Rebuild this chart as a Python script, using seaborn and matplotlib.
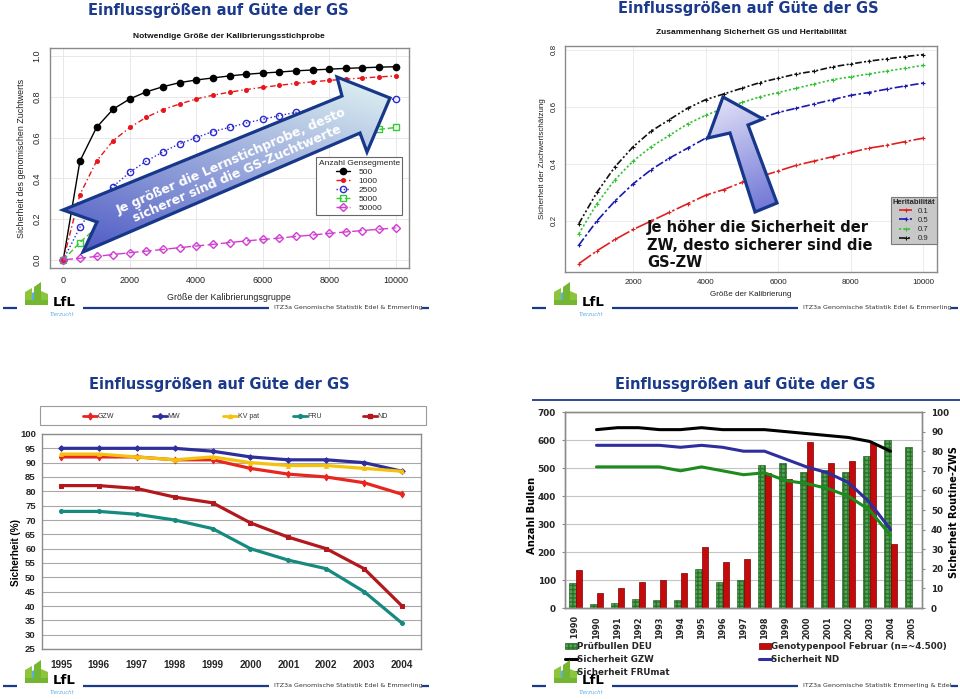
import numpy as np
import pandas as pd
import matplotlib
matplotlib.use("Agg")
import matplotlib.pyplot as plt
import seaborn as sns
from matplotlib.patches import Polygon, Rectangle, Patch
from matplotlib.lines import Line2D

# ---------------- data ----------------
# Panel 1: Notwendige Größe der Kalibrierungsstichprobe
p1_x = [0, 500, 1000, 1500, 2000, 2500, 3000, 3500, 4000, 4500, 5000,
        5500, 6000, 6500, 7000, 7500, 8000, 8500, 9000, 9500, 10000]
p1_500 = [0, 0.485, 0.65, 0.74, 0.79, 0.825, 0.85, 0.87, 0.883, 0.893, 0.903,
          0.911, 0.917, 0.922, 0.928, 0.932, 0.936, 0.94, 0.943, 0.946, 0.948]
p1_1000 = [0, 0.32, 0.485, 0.585, 0.65, 0.70, 0.738, 0.765, 0.79, 0.808, 0.823,
           0.836, 0.847, 0.857, 0.866, 0.874, 0.881, 0.887, 0.893, 0.898, 0.903]
p1_2500 = [0, 0.16, 0.28, 0.36, 0.43, 0.485, 0.53, 0.57, 0.60, 0.63, 0.65,
           0.672, 0.69, 0.708, 0.724, 0.738, 0.75, 0.762, 0.772, 0.782, 0.79]
p1_5000 = [0, 0.085, 0.16, 0.23, 0.285, 0.33, 0.37, 0.405, 0.435, 0.46, 0.49,
           0.51, 0.53, 0.55, 0.57, 0.585, 0.60, 0.613, 0.627, 0.64, 0.65]
p1_50000 = [0, 0.008, 0.017, 0.026, 0.035, 0.043, 0.051, 0.06, 0.068, 0.076, 0.085,
            0.093, 0.10, 0.107, 0.115, 0.122, 0.13, 0.137, 0.144, 0.15, 0.157]
p1_labels = ["500", "1000", "2500", "5000", "50000"]

# Panel 2: Zusammenhang Sicherheit GS und Heritabilität
p2_x = [500, 1000, 1500, 2000, 2500, 3000, 3500, 4000, 4500, 5000,
        5500, 6000, 6500, 7000, 7500, 8000, 8500, 9000, 9500, 10000]
p2_h01 = [0.05, 0.095, 0.135, 0.17, 0.20, 0.23, 0.26, 0.29, 0.31, 0.335,
          0.355, 0.375, 0.395, 0.41, 0.425, 0.44, 0.455, 0.465, 0.478, 0.49]
p2_h05 = [0.115, 0.20, 0.27, 0.33, 0.38, 0.42, 0.455, 0.49, 0.515, 0.54,
          0.56, 0.58, 0.595, 0.61, 0.625, 0.64, 0.65, 0.662, 0.673, 0.683]
p2_h07 = [0.155, 0.26, 0.345, 0.41, 0.46, 0.50, 0.54, 0.57, 0.595, 0.615,
          0.635, 0.65, 0.665, 0.68, 0.695, 0.705, 0.715, 0.725, 0.735, 0.745]
p2_h09 = [0.19, 0.30, 0.39, 0.46, 0.515, 0.555, 0.595, 0.625, 0.645, 0.665,
          0.685, 0.70, 0.715, 0.725, 0.74, 0.75, 0.76, 0.768, 0.776, 0.783]
p2_labels = ["0.1", "0.5", "0.7", "0.9"]

# Panel 3: Sicherheit (%) nach Jahrgang
p3_years = ["1995", "1996", "1997", "1998", "1999", "2000", "2001", "2002", "2003", "2004"]
p3_gzw = [92, 92, 92, 91, 91, 88, 86, 85, 83, 79]
p3_mw = [95, 95, 95, 95, 94, 92, 91, 91, 90, 87]
p3_kvpat = [93, 93, 92, 91, 92, 90, 89, 89, 88, 87]
p3_fru = [73, 73, 72, 70, 67, 60, 56, 53, 45, 34]
p3_nd = [82, 82, 81, 78, 76, 69, 64, 60, 53, 40]
p3_labels = ["GZW", "MW", "KV pat", "FRU", "ND"]

# Panel 4: Anzahl Bullen und Sicherheit Routine-ZWS
p4_cats = ["< 1990", "1990", "1991", "1992", "1993", "1994", "1995", "1996", "1997",
           "1998", "1999", "2000", "2001", "2002", "2003", "2004", "2005"]
p4_pruef = [90, 13, 19, 33, 27, 30, 140, 94, 99, 511, 517, 485, 492, 487, 542, 601, 576]
p4_geno = [137, 54, 71, 93, 101, 124, 219, 165, 174, 481, 460, 593, 517, 526, 590, 227, np.nan]
p4_line_years = ["1990", "1991", "1992", "1993", "1994", "1995", "1996", "1997", "1998",
                 "1999", "2000", "2001", "2002", "2003", "2004"]
p4_gzw = [91, 92, 92, 91, 91, 92, 91, 91, 91, 90, 89, 88, 87, 85, 80]
p4_nd = [83, 83, 83, 83, 82, 83, 82, 80, 80, 76, 72, 69, 64, 54, 40]
p4_fru = [72, 72, 72, 72, 70, 72, 70, 68, 69, 65, 63.5, 61, 57, 50, 37]

# ---------------- setup ----------------
sns.set_style("white")
W, H = 960, 699
fig = plt.figure(figsize=(W / 100, H / 100), dpi=100)
fig.patch.set_facecolor("white")

ARIAL = ["Liberation Sans", "DejaVu Sans"]
VERD = ["DejaVu Sans"]
TITLE_BLUE = "#1c3a8c"


def frect(x0, y0, x1, y1):
    return [x0 / W, 1 - y1 / H, (x1 - x0) / W, (y1 - y0) / H]


def style_ticks(ax, size, fam, weight="normal"):
    for lab in ax.get_xticklabels() + ax.get_yticklabels():
        lab.set_fontfamily(fam)
        lab.set_fontsize(size)
        lab.set_fontweight(weight)


# ---------------- Panel 1 ----------------
ax1 = fig.add_axes(frect(50, 48, 409, 268))
p1_specs = [
    (p1_500, "black", "o", "-", 4.5, True),
    (p1_1000, "#e8161b", "o", (0, (4, 2, 1, 2)), 2.6, True),
    (p1_2500, "#2b2bd0", "o", (0, (1, 1.6)), 4.5, False),
    (p1_5000, "#33cc33", "s", (0, (4, 2)), 4.2, False),
    (p1_50000, "#d23cd2", "D", (0, (7, 2.5)), 4.2, False),
]
for lab, (vals, col, mk, ls, ms, filled) in zip(p1_labels, p1_specs):
    sns.lineplot(x=p1_x, y=vals, ax=ax1, color=col, lw=1.0, linestyle=ls,
                 marker=mk, markersize=ms, markerfacecolor=col if filled else "none",
                 markeredgecolor=col, markeredgewidth=1.0, label=lab)
ax1.set_xlim(-400, 10400)
ax1.set_ylim(-0.04, 1.04)
ax1.set_xticks([0, 2000, 4000, 6000, 8000, 10000])
ax1.set_yticks([0.0, 0.2, 0.4, 0.6, 0.8, 1.0])
ax1.set_yticklabels(["0.0", "0.2", "0.4", "0.6", "0.8", "1.0"])
ax1.set_xlabel("")
ax1.set_ylabel("")
ax1.grid(True, color="#e8e8e8", lw=0.7)
ax1.set_axisbelow(True)
for s in ax1.spines.values():
    s.set_color("#8a8a8a")
    s.set_linewidth(1.0)
ax1.tick_params(axis="both", length=3, width=0.7, color="#555", pad=3, labelcolor="#222")
style_ticks(ax1, 6.5, ARIAL)
for lab in ax1.get_yticklabels():
    lab.set_rotation(90)
    lab.set_va("center")
h1 = ax1.get_lines()[:5]
leg1 = ax1.legend(h1, p1_labels, title="Anzahl Gensegmente", loc="upper left",
                  bbox_to_anchor=(312 / W, 1 - 153 / H), bbox_transform=fig.transFigure,
                  prop={"family": ARIAL, "size": 6.0}, title_fontproperties={"family": ARIAL, "size": 6.0},
                  frameon=True, fancybox=False, edgecolor="#666", framealpha=1,
                  borderpad=0.3, labelspacing=0.15, handlelength=1.7, handletextpad=1.0)
leg1.get_frame().set_linewidth(0.8)

# ---------------- Panel 2 ----------------
ax2 = fig.add_axes(frect(565, 46, 937, 272))
p2_specs = [
    (p2_h01, "#e02020", (0, (9, 1.5, 1.5, 1.5))),
    (p2_h05, "#1a1ab0", (0, (5, 1.5, 1.5, 1.5))),
    (p2_h07, "#33c233", (0, (1.3, 1.3))),
    (p2_h09, "#111111", (0, (4, 1.4, 1.2, 1.4, 1.2, 1.4))),
]
for lab, (vals, col, ls) in zip(p2_labels, p2_specs):
    sns.lineplot(x=p2_x, y=vals, ax=ax2, color=col, lw=1.2, linestyle=ls, marker="+",
                 markersize=3, markeredgecolor=col, markeredgewidth=0.8, label=lab)
ax2.set_xlim(120, 10380)
ax2.set_ylim(0.021, 0.813)
ax2.set_xticks([2000, 4000, 6000, 8000, 10000])
ax2.set_yticks([0.2, 0.4, 0.6, 0.8])
ax2.set_yticklabels(["0.2", "0.4", "0.6", "0.8"])
ax2.set_xlabel("")
ax2.set_ylabel("")
ax2.grid(True, color="#ececec", lw=0.7)
ax2.set_axisbelow(True)
for s in ax2.spines.values():
    s.set_color("#8a8a8a")
    s.set_linewidth(1.0)
ax2.tick_params(axis="both", length=2.5, width=0.7, color="#555", pad=2.5, labelcolor="#222")
style_ticks(ax2, 5.8, ARIAL)
for lab in ax2.get_yticklabels():
    lab.set_rotation(90)
    lab.set_va("center")
h2 = ax2.get_lines()[:4]
leg2 = ax2.legend(h2, p2_labels, title="Heritabilität", loc="upper left",
                  bbox_to_anchor=(887 / W, 1 - 193 / H), bbox_transform=fig.transFigure,
                  prop={"family": ARIAL, "size": 5.6}, title_fontproperties={"family": ARIAL, "size": 5.6, "weight": "bold"},
                  frameon=True, fancybox=False, facecolor="#c8c8c8", edgecolor="#7a7a7a", framealpha=1,
                  borderpad=0.25, labelspacing=0.22, handlelength=1.6, handletextpad=0.8)
leg2.get_frame().set_linewidth(0.8)

# ---------------- Panel 3 ----------------
ax3 = fig.add_axes(frect(42, 434, 421, 649))
p3_pos = np.arange(len(p3_years))
p3_specs = [
    (p3_gzw, "#e8251f", "d", 3.5),
    (p3_mw, "#2f2f9c", "D", 2.8),
    (p3_kvpat, "#f4c20d", "^", 2.8),
    (p3_fru, "#168a7e", "o", 2.8),
    (p3_nd, "#b3181c", "s", 3.2),
]
for lab, (vals, col, mk, ms) in zip(p3_labels, p3_specs):
    sns.lineplot(x=p3_pos, y=vals, ax=ax3, color=col, lw=2.3, marker=mk, markersize=ms,
                 markeredgecolor=col, markerfacecolor=col, label=lab)
if ax3.get_legend() is not None:
    ax3.get_legend().remove()
ax3.set_xlim(-0.5, len(p3_years) - 0.5)
ax3.set_ylim(25, 100)
ax3.set_yticks(np.arange(25, 101, 5))
ax3.set_xticks(p3_pos)
ax3.set_xticklabels(p3_years)
ax3.set_xticks(np.arange(-0.5, len(p3_years), 1), minor=True)
ax3.set_xlabel("")
ax3.set_ylabel("")
ax3.yaxis.grid(True, color="#a8a8a8", lw=0.8)
ax3.set_axisbelow(True)
for s in ax3.spines.values():
    s.set_color("#8c8c8c")
    s.set_linewidth(1.0)
ax3.tick_params(axis="x", which="major", length=0, pad=8)
ax3.tick_params(axis="x", which="minor", length=4, width=0.8, color="#8c8c8c")
ax3.tick_params(axis="y", length=3, width=0.8, color="#8c8c8c", pad=1.5)
style_ticks(ax3, 6.8, ARIAL, "bold")
for lab in ax3.get_xticklabels():
    lab.set_fontsize(7.2)

# ---------------- Panel 4 ----------------
ax4 = fig.add_axes(frect(565, 412, 922, 608))
df4 = pd.DataFrame({
    "cat": p4_cats + p4_cats,
    "val": p4_pruef + p4_geno,
    "serie": ["Prüfbullen DEU"] * len(p4_cats) + ["Genotypenpool Februar (n=~4.500)"] * len(p4_cats),
})
GREEN_BAR = "#4fa84f"
RED_BAR = "#c40a0a"
sns.barplot(data=df4, x="cat", y="val", hue="serie", order=p4_cats,
            hue_order=["Prüfbullen DEU", "Genotypenpool Februar (n=~4.500)"],
            palette=[GREEN_BAR, RED_BAR], width=0.62, saturation=1, ax=ax4, legend=False)
for p in ax4.containers[0]:
    p.set_hatch("++++")
    p.set_edgecolor("#2f6f2f")
    p.set_linewidth(0.5)
for p in ax4.containers[1]:
    p.set_edgecolor("#7a0000")
    p.set_linewidth(0.5)
ax4.set_ylim(0, 700)
ax4.set_yticks(np.arange(0, 701, 100))
ax4.set_xlim(-0.5, len(p4_cats) - 0.5)
ax4.set_xticks(np.arange(len(p4_cats)))
ax4.set_xticklabels(p4_cats, rotation=90)
ax4.set_xticks(np.arange(-0.5, len(p4_cats), 1), minor=True)
ax4.set_xlabel("")
ax4.set_ylabel("")
ax4.yaxis.grid(True, color="#c4c4c4", lw=0.8)
ax4.set_axisbelow(True)
for s in ax4.spines.values():
    s.set_color("#8c8c8c")
    s.set_linewidth(1.0)
ax4.tick_params(axis="x", which="major", length=0, pad=6)
ax4.tick_params(axis="x", which="minor", length=3, width=0.8, color="#8c8c8c")
ax4.tick_params(axis="y", length=2.5, width=0.8, color="#8c8c8c", pad=4)
style_ticks(ax4, 6.4, VERD, "bold")
for lab in ax4.get_xticklabels():
    lab.set_fontsize(5.9)

ax4r = ax4.twinx()
p4_lpos = [p4_cats.index(y) for y in p4_line_years]
for vals, col in [(p4_gzw, "black"), (p4_nd, "#2e2e9e"), (p4_fru, "#1c8c1c")]:
    sns.lineplot(x=p4_lpos, y=vals, ax=ax4r, color=col, lw=2.2)
ax4r.set_ylim(0, 100)
ax4r.set_yticks(np.arange(0, 101, 10))
ax4r.set_xlim(-0.5, len(p4_cats) - 0.5)
ax4r.set_ylabel("")
ax4r.set_xlabel("")
for s in ax4r.spines.values():
    s.set_color("#8c8c8c")
    s.set_linewidth(1.0)
ax4r.tick_params(axis="y", length=2.5, width=0.8, color="#8c8c8c", pad=4)
style_ticks(ax4r, 6.3, VERD, "bold")

# panel 4 legends
leg_prop = {"family": VERD, "size": 6.3, "weight": "bold"}
hA = [Patch(facecolor=GREEN_BAR, edgecolor="#2f6f2f", hatch="++++", lw=0.5),
      Line2D([], [], color="black", lw=2.2),
      Line2D([], [], color="#1c8c1c", lw=2.2)]
fig.legend(hA, ["Prüfbullen DEU", "Sicherheit GZW", "Sicherheit FRUmat"], loc="upper left",
           bbox_to_anchor=(565 / W, 1 - 642 / H), frameon=False, prop=leg_prop,
           handlelength=1.35, handleheight=0.8, handletextpad=0.05, labelspacing=0.45,
           borderpad=0, borderaxespad=0)
hB = [Patch(facecolor=RED_BAR, edgecolor="#7a0000", lw=0.5),
      Line2D([], [], color="#2e2e9e", lw=2.2)]
fig.legend(hB, ["Genotypenpool Februar (n=~4.500)", "Sicherheit ND"], loc="upper left",
           bbox_to_anchor=(759 / W, 1 - 642 / H), frameon=False, prop=leg_prop,
           handlelength=1.35, handleheight=0.8, handletextpad=0.05, labelspacing=0.45,
           borderpad=0, borderaxespad=0)

# ---------------- Overlay (titles, arrows, footers) ----------------
ov = fig.add_axes([0, 0, 1, 1], zorder=20)
ov.patch.set_alpha(0)
ov.axis("off")


def gradient_arrow(pts, c_dark, c_light, wx, wy, ec="#17378a"):
    poly = Polygon(pts, closed=True, fc="none", ec=ec, lw=2.3, zorder=23, joinstyle="miter")
    ov.add_patch(poly)
    xs = [p[0] for p in pts]
    ys = [p[1] for p in pts]
    x0, x1, y0, y1 = min(xs), max(xs), min(ys), max(ys)
    gx = np.linspace(0, 1, 240)[None, :]
    gy = np.linspace(0, 1, 240)[:, None]
    t = wx * gx + wy * (1 - gy)
    t = (t - t.min()) / (t.max() - t.min())
    c0 = np.array(matplotlib.colors.to_rgb(c_dark))
    c1 = np.array(matplotlib.colors.to_rgb(c_light))
    img = (1 - t)[..., None] * c0 + t[..., None] * c1
    im = ov.imshow(img, extent=[x0, x1, y1, y0], origin="upper", aspect="auto",
                   zorder=22, interpolation="bilinear")
    im.set_clip_path(poly)


# main titles
for cx, cy in [(218, 10), (748, 9), (219, 385), (745, 384)]:
    ov.text(cx, cy, "Einflussgrößen auf Güte der GS", ha="center", va="center",
            fontsize=10.5, fontweight="bold", color=TITLE_BLUE, family=VERD)
# rule under bottom-right title
ov.plot([532, 960], [400, 400], color=TITLE_BLUE, lw=1.3, solid_capstyle="butt")

# sub titles and axis labels panel 1/2
ov.text(229, 36, "Notwendige Größe der Kalibrierungsstichprobe", ha="center", va="center",
        fontsize=6, fontweight="bold", family=ARIAL, color="#111")
ov.text(751, 33, "Zusammenhang Sicherheit GS und Heritabilität", ha="center", va="center",
        fontsize=6, fontweight="bold", family=ARIAL, color="#111")
ov.text(22, 158, "Sicherheit des genomischen Zuchtwerts", ha="center", va="center", rotation=90,
        fontsize=6.4, family=ARIAL, color="#222")
ov.text(229, 297, "Größe der Kalibrierungsgruppe", ha="center", va="center",
        fontsize=6.4, family=ARIAL, color="#222")
ov.text(542, 159, "Sicherheit der Zuchwertschätzung", ha="center", va="center", rotation=90,
        fontsize=5.8, family=ARIAL, color="#222")
ov.text(751, 295, "Größe der Kalibrierung", ha="center", va="center",
        fontsize=5.8, family=ARIAL, color="#222")

# axis labels panel 3/4
ov.text(16, 552, "Sicherheit (%)", ha="center", va="center", rotation=90,
        fontsize=7.2, fontweight="bold", family=ARIAL, color="black")
ov.text(532, 515, "Anzahl Bullen", ha="center", va="center", rotation=90,
        fontsize=7.2, fontweight="bold", family=VERD, color="black")
ov.text(954, 512, "Sicherheit Routine-ZWS", ha="center", va="center", rotation=90,
        fontsize=7.0, fontweight="bold", family=VERD, color="black")

# panel 3 legend box (Excel style)
ov.add_patch(Rectangle((40, 406), 386, 19, fc="white", ec="#9a9a9a", lw=0.8, zorder=21))
for i, (lab, (vals, col, mk, ms)) in enumerate(zip(p3_labels, p3_specs)):
    lx = 83 + i * 70
    ov.plot([lx, lx + 14], [416, 416], color=col, lw=2.0, zorder=22)
    ov.plot([lx + 7], [416], marker=mk, ms=ms, color=col, zorder=22)
    ov.text(lx + 14.5, 416, lab, ha="left", va="center", fontsize=5, family=ARIAL,
            color="#333", zorder=22)

# arrow panel 1
arrow1 = [(63, 210), (342, 96), (337, 77), (390, 98), (367, 152), (360, 133),
          (83, 252), (97, 222)]
gradient_arrow(arrow1, "#4d58c4", "#e2f6f2", 0.35, 0.65)
ov.text(234, 168, "Je größer die Lernstichprobe, desto\nsicherer sind die GS-Zuchtwerte",
        ha="center", va="center", rotation=23.5, rotation_mode="anchor", multialignment="center",
        fontsize=9, fontweight="bold", color="white", family=VERD, zorder=24, linespacing=1.05)

# arrow panel 2
arrow2 = [(723, 97), (763, 119), (748, 125), (777, 203), (755, 212), (730, 133), (708, 138)]
gradient_arrow(arrow2, "#6a70d4", "#e6e6f8", -0.25, 1.0)
ov.text(647, 245, "Je höher die Sicherheit der\nZW, desto sicherer sind die\nGS-ZW",
        ha="left", va="center", fontsize=10.5, fontweight="bold", color="#111",
        family=VERD, linespacing=1.2, zorder=24)


# footers with logo
def logo(x, y):
    g1, g2, bl = "#8cc43c", "#74b531", "#5aaee6"
    ov.add_patch(Polygon([(x, y + 10), (x + 7, y + 6), (x + 7, y + 23), (x, y + 23)], fc=g1, ec="none", zorder=22))
    ov.add_patch(Polygon([(x + 7, y + 11), (x + 13, y + 8), (x + 13, y + 19), (x + 7, y + 21)], fc=bl, ec="none", zorder=22))
    ov.add_patch(Polygon([(x + 9, y + 5), (x + 16, y), (x + 16, y + 18), (x + 9, y + 20)], fc=g2, ec="none", zorder=22))
    ov.add_patch(Polygon([(x + 16, y + 9), (x + 23, y + 12), (x + 23, y + 23), (x + 16, y + 23)], fc=g1, ec="none", zorder=22))
    ov.add_patch(Polygon([(x, y + 18), (x + 23, y + 18), (x + 23, y + 23), (x, y + 23)], fc=g2, ec="none", zorder=22))
    ov.text(x + 28, y + 27, "LfL", ha="left", va="bottom", fontsize=9.5, fontweight="bold",
            color="black", family=VERD, zorder=22)
    ov.text(x + 25, y + 32, "Tierzucht", ha="left", va="center", fontsize=3.8, style="italic",
            color="#5aaee6", family=VERD, zorder=22)


def footer(xoff, y, text):
    ov.plot([xoff + 3, xoff + 17], [y, y], color=TITLE_BLUE, lw=1.6, solid_capstyle="butt")
    ov.plot([xoff + 83, xoff + 269], [y, y], color=TITLE_BLUE, lw=1.6, solid_capstyle="butt")
    ov.plot([xoff + 422, xoff + 429], [y, y], color=TITLE_BLUE, lw=1.6, solid_capstyle="butt")
    ov.text(xoff + 274, y, text, ha="left", va="center", fontsize=4.6, color="#333", family=VERD)
    logo(xoff + 25, y - 26)


footer(0, 308, "ITZ3a Genomische Statistik Edel & Emmerling")
footer(529, 308, "ITZ3a Genomische Statistik Edel & Emmerling")
footer(0, 686, "ITZ3a Genomische Statistik Edel & Emmerling")
footer(529, 686, "ITZ3a Genomische Statistik Emmerling & Edel")

ov.set_xlim(0, W)
ov.set_ylim(H, 0)

fig.savefig("out.png", dpi=100, facecolor="white")
